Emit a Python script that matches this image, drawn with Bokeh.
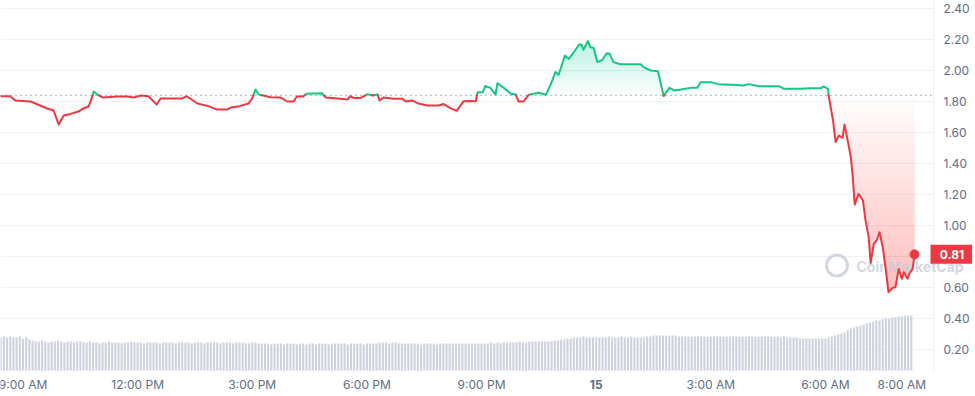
import numpy as np
from bokeh.plotting import figure
from bokeh.models import Range1d
from bokeh.core.properties import value
from bokeh.embed import file_html
from bokeh.resources import INLINE

# ---------------- data ----------------
price_times = [
    "14 08:25", "14 08:40", "14 08:48", "14 09:12", "14 09:27", "14 09:38", "14 09:48", "14 09:56",
    "14 10:04", "14 10:15", "14 10:27", "14 10:35", "14 10:43", "14 10:48", "14 10:51", "14 10:57",
    "14 11:05", "14 11:28", "14 11:44", "14 11:54", "14 12:05", "14 12:17", "14 12:30", "14 12:36",
    "14 12:56", "14 13:10", "14 13:17", "14 13:34", "14 13:51", "14 14:05", "14 14:21", "14 14:26",
    "14 14:40", "14 14:54", "14 15:00", "14 15:05", "14 15:10", "14 15:29", "14 15:44", "14 15:55",
    "14 16:05", "14 16:10", "14 16:20", "14 16:25", "14 16:50", "14 16:55", "14 17:14", "14 17:30",
    "14 17:34", "14 17:39", "14 17:50", "14 18:01", "14 18:09", "14 18:17", "14 18:20", "14 18:26",
    "14 18:42", "14 18:56", "14 19:01", "14 19:12", "14 19:21", "14 19:35", "14 19:53", "14 20:00",
    "14 20:11", "14 20:21", "14 20:32", "14 20:41", "14 20:51", "14 20:54", "14 21:02", "14 21:06",
    "14 21:14", "14 21:22", "14 21:25", "14 21:35", "14 21:46", "14 21:54", "14 21:58", "14 22:06",
    "14 22:14", "14 22:30", "14 22:41", "14 22:49", "14 22:56", "14 23:01", "14 23:11", "14 23:17",
    "14 23:25", "14 23:33", "14 23:37", "14 23:40", "14 23:47", "14 23:51", "14 23:56", "15 00:02",
    "15 00:10", "15 00:16", "15 00:21", "15 00:27", "15 00:38", "15 01:10", "15 01:15", "15 01:26",
    "15 01:37", "15 01:46", "15 01:55", "15 02:03", "15 02:13", "15 02:28", "15 02:39", "15 02:44",
    "15 03:00", "15 03:12", "15 03:42", "15 03:50", "15 04:00", "15 04:15", "15 04:47", "15 04:55",
    "15 05:21", "15 05:37", "15 05:53", "15 05:57", "15 06:04", "15 06:05", "15 06:12", "15 06:16",
    "15 06:21", "15 06:27", "15 06:30", "15 06:35", "15 06:40", "15 06:43", "15 06:46", "15 06:52",
    "15 06:59", "15 07:03", "15 07:08", "15 07:11", "15 07:16", "15 07:21", "15 07:25", "15 07:30",
    "15 07:35", "15 07:39", "15 07:46", "15 07:50", "15 07:55", "15 08:00", "15 08:03", "15 08:09",
    "15 08:12", "15 08:17", "15 08:20",
]
price_values = [
    1.834, 1.834, 1.806, 1.800, 1.774, 1.755, 1.742, 1.652,
    1.710, 1.720, 1.735, 1.755, 1.768, 1.820, 1.865, 1.845,
    1.826, 1.832, 1.832, 1.826, 1.839, 1.834, 1.780, 1.820,
    1.820, 1.820, 1.834, 1.787, 1.770, 1.748, 1.748, 1.761,
    1.770, 1.787, 1.820, 1.877, 1.845, 1.828, 1.826, 1.800,
    1.800, 1.832, 1.832, 1.850, 1.853, 1.826, 1.820, 1.813,
    1.834, 1.823, 1.823, 1.847, 1.839, 1.845, 1.806, 1.826,
    1.817, 1.817, 1.800, 1.806, 1.787, 1.774, 1.774, 1.784,
    1.757, 1.740, 1.802, 1.804, 1.802, 1.860, 1.860, 1.900,
    1.888, 1.845, 1.918, 1.888, 1.850, 1.845, 1.800, 1.800,
    1.843, 1.856, 1.843, 1.914, 1.990, 1.972, 2.097, 2.075,
    2.118, 2.168, 2.168, 2.133, 2.190, 2.150, 2.146, 2.054,
    2.069, 2.110, 2.110, 2.054, 2.040, 2.040, 2.020, 2.000,
    1.995, 1.835, 1.888, 1.871, 1.877, 1.888, 1.888, 1.925,
    1.925, 1.912, 1.907, 1.903, 1.912, 1.899, 1.899, 1.882,
    1.882, 1.886, 1.886, 1.897, 1.882, 1.840, 1.677, 1.538,
    1.580, 1.566, 1.652, 1.548, 1.440, 1.312, 1.135, 1.204,
    1.161, 1.032, 0.925, 0.757, 0.882, 0.908, 0.957, 0.860,
    0.710, 0.570, 0.598, 0.602, 0.720, 0.656, 0.699, 0.656,
    0.692, 0.720, 0.814,
]
open_price = 1.84
last_price_label = "0.81"

volume_first_time = "14 08:20"   # 5-minute volume bars
volume_values = [
    34, 33, 34, 33, 34, 33, 33, 34, 32, 33, 31, 30,
    29, 29, 30, 29, 28, 29, 29, 30, 29, 28, 29, 29,
    28, 29, 29, 28, 28, 29, 28, 28, 27, 28, 28, 29,
    28, 28, 28, 27, 28, 28, 29, 28, 28, 28, 27, 28,
    28, 28, 28, 27, 28, 28, 28, 28, 27, 28, 28, 28,
    28, 27, 28, 28, 28, 27, 28, 28, 28, 28, 27, 28,
    28, 28, 27, 28, 28, 28, 27, 27, 28, 28, 27, 27,
    27, 27, 26, 27, 27, 27, 26, 27, 27, 27, 26, 27,
    27, 26, 27, 27, 26, 27, 27, 27, 26, 27, 27, 27,
    27, 27, 26, 27, 27, 27, 27, 26, 27, 27, 27, 27,
    28, 28, 28, 27, 28, 28, 27, 27, 27, 27, 27, 27,
    27, 26, 27, 27, 27, 27, 26, 27, 27, 27, 27, 27,
    27, 27, 27, 27, 27, 27, 27, 27, 27, 27, 27, 28,
    27, 28, 27, 28, 28, 28, 28, 28, 29, 28, 28, 29,
    29, 29, 29, 29, 29, 29, 29, 30, 30, 31, 31, 32,
    32, 33, 33, 33, 34, 33, 33, 33, 33, 33, 33, 33,
    34, 33, 33, 33, 34, 33, 33, 34, 33, 33, 33, 33,
    34, 34, 35, 35, 35, 35, 35, 35, 35, 35, 34, 34,
    34, 34, 34, 34, 34, 34, 34, 34, 34, 34, 34, 34,
    34, 34, 34, 34, 34, 34, 34, 34, 34, 34, 34, 34,
    34, 34, 34, 34, 34, 34, 33, 34, 33, 33, 33, 33,
    32, 32, 32, 32, 32, 32, 32, 32, 32, 33, 34, 35,
    36, 37, 38, 40, 42, 43, 44, 45, 46, 47, 48, 49,
    50, 50, 51, 52, 52, 53, 53, 54, 54, 55, 55, 55,
]

y_ticks = [0.2, 0.4, 0.6, 0.8, 1.0, 1.2, 1.4, 1.6, 1.8, 2.0, 2.2, 2.4]
y_tick_labels = ["0.20", "0.40", "0.60", "0.80", "1.00", "1.20", "1.40", "1.60", "1.80",
                 "2.00", "2.20", "2.40"]
x_ticks = [9, 12, 15, 18, 21, 24, 27, 30, 32]
x_tick_labels = ["9:00 AM", "12:00 PM", "3:00 PM", "6:00 PM", "9:00 PM", "15",
                 "3:00 AM", "6:00 AM", "8:00 AM"]
bold_x_labels = ["15"]

# ---------------- styling / layout ----------------
GREEN = "#16c784"
RED = "#ea3943"
LABEL = "#616e85"
GRID = "#eff2f5"
FONT = value("Inter")

W, H = 972, 394                  # canvas size (frame fills it)
PX_PER_H, X_AT_9 = 38.21, 22.5    # horizontal scale
PX_PER_U, Y_AT_0 = 155.0, 380.0   # vertical scale


def hx(px_):        # screen px -> hours (layout helper)
    return 9 + (px_ - X_AT_9) / PX_PER_H


def vy(py_):        # screen px -> price units (layout helper)
    return (Y_AT_0 - py_) / PX_PER_U


def to_hours(s):
    d, hm = s.split()
    hh, mm = hm.split(":")
    return (int(d) - 14) * 24 + int(hh) + int(mm) / 60.0


px = [to_hours(t) for t in price_times]
py = list(price_values)
vx = [to_hours(volume_first_time) + i * 5 / 60.0 for i in range(len(volume_values))]

X0, X1 = hx(0), hx(W)
Y0, Y1 = vy(H), vy(0)
PLOT_RIGHT = hx(933)
PLOT_BOTTOM = vy(372)

p = figure(frame_width=W, frame_height=H,
           x_range=Range1d(X0, X1), y_range=Range1d(Y0, Y1),
           x_axis_type=None, y_axis_type=None,
           output_backend="svg", toolbar_location=None,
           min_border_left=0, min_border_top=0, min_border_right=0, min_border_bottom=0)
p.outline_line_color = None
p.background_fill_color = "white"
p.border_fill_color = "white"
p.grid.visible = False

# horizontal grid + right edge line
p.segment(x0=[X0] * len(y_ticks), x1=[PLOT_RIGHT] * len(y_ticks), y0=y_ticks, y1=y_ticks,
          line_color=GRID, line_width=1)
p.segment(x0=[PLOT_RIGHT], x1=[PLOT_RIGHT], y0=[Y1], y1=[PLOT_BOTTOM],
          line_color=GRID, line_width=1)

# volume bars (own scale, base at bottom of plot area)
p.extra_y_ranges = {"vol": Range1d(-(H - 370), 370)}
p.vbar(x=vx, top=volume_values, width=0.055, y_range_name="vol",
       fill_color="#cdd3dd", line_color=None)


def insert_crossings(xs, ys, level):
    ox, oy = [xs[0]], [ys[0]]
    for i in range(1, len(xs)):
        a, b = ys[i - 1] - level, ys[i] - level
        if a * b < 0:
            t = a / (a - b)
            ox.append(xs[i - 1] + t * (xs[i] - xs[i - 1]))
            oy.append(level)
        ox.append(xs[i])
        oy.append(ys[i])
    return np.array(ox), np.array(oy)


# gradient fills, built from stacked translucent layers
for k in range(15):
    lvl = open_price + k * 0.025
    gx, gy = insert_crossings(px, py, lvl)
    p.varea(x=gx, y1=np.full(len(gx), lvl), y2=np.maximum(gy, lvl),
            fill_color=GREEN, fill_alpha=0.018)
for k in range(22):
    lvl = open_price - k * 0.06
    rx, ry = insert_crossings(px, py, lvl)
    p.varea(x=rx, y1=np.minimum(ry, lvl), y2=np.full(len(rx), lvl),
            fill_color=RED, fill_alpha=0.015)

# watermark
p.text(x=[hx(856)], y=[vy(266)], text=["CoinMarketCap"], text_font=FONT,
       text_font_size="14px", text_font_style="bold", text_color="#c3cad6",
       text_alpha=0.75, text_baseline="middle", text_align="left")
p.scatter(x=[hx(836.5)], y=[vy(265)], size=21, marker="circle", fill_color=None,
          line_color="#c3cad6", line_width=3, line_alpha=0.75)

# dotted open-price line
p.segment(x0=[X0], x1=[PLOT_RIGHT], y0=[open_price], y1=[open_price],
          line_color="#58667e", line_dash="1 4", line_width=1)

# coloured price line (green above open, red below)
runs_g_x, runs_g_y, runs_r_x, runs_r_y = [], [], [], []
side = py[0] > open_price
cx, cy = [px[0]], [py[0]]
for i in range(1, len(px)):
    s = py[i] > open_price
    if s != side:
        t = (open_price - py[i - 1]) / (py[i] - py[i - 1])
        xc = px[i - 1] + t * (px[i] - px[i - 1])
        cx.append(xc); cy.append(open_price)
        (runs_g_x if side else runs_r_x).append(cx)
        (runs_g_y if side else runs_r_y).append(cy)
        cx, cy = [xc], [open_price]
        side = s
    cx.append(px[i]); cy.append(py[i])
(runs_g_x if side else runs_r_x).append(cx)
(runs_g_y if side else runs_r_y).append(cy)

p.multi_line(xs=runs_g_x, ys=runs_g_y, line_color=GREEN, line_width=2,
             line_join="round", line_cap="round")
p.multi_line(xs=runs_r_x, ys=runs_r_y, line_color=RED, line_width=2,
             line_join="round", line_cap="round")
p.scatter(x=[px[-1]], y=[py[-1]], size=9, color=RED)

# right price-axis labels
p.text(x=[hx(943)] * len(y_ticks), y=y_ticks, text=y_tick_labels,
       text_font=FONT, text_font_size="12px", text_color=LABEL,
       text_align="left", text_baseline="middle")

# bottom time-axis labels
lab_y = vy(383.5)
norm = [(t, l) for t, l in zip(x_ticks, x_tick_labels) if l not in bold_x_labels]
bold = [(t, l) for t, l in zip(x_ticks, x_tick_labels) if l in bold_x_labels]
p.text(x=[t for t, _ in norm], y=[lab_y] * len(norm), text=[l for _, l in norm],
       text_font=FONT, text_font_size="12px", text_color=LABEL,
       text_align="center", text_baseline="middle")
p.text(x=[t for t, _ in bold], y=[lab_y] * len(bold), text=[l for _, l in bold],
       text_font=FONT, text_font_size="12px", text_font_style="bold", text_color=LABEL,
       text_align="center", text_baseline="middle")

# last-price tag
half = 9.5 / PX_PER_U
p.quad(left=[hx(930)], right=[hx(972)], bottom=[py[-1] - half], top=[py[-1] + half],
       fill_color=RED, line_color=None)
p.text(x=[hx(951.5)], y=[py[-1]], text=[last_price_label], text_font=FONT,
       text_font_size="12px", text_font_style="bold", text_color="white",
       text_align="center", text_baseline="middle")

open("out.html", "w").write(file_html(p, INLINE))
